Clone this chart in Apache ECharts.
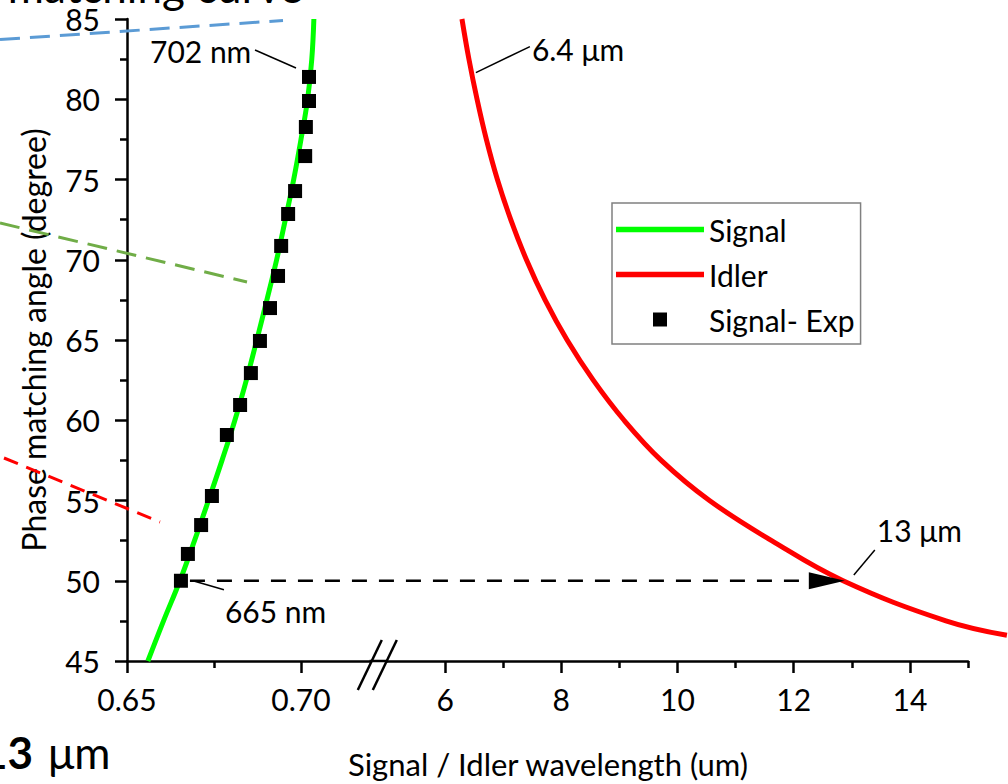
<!DOCTYPE html>
<html>
<head>
<meta charset="utf-8">
<script src="https://cdn.jsdelivr.net/npm/echarts@6/dist/echarts.min.js"></script>
<style>
html,body{margin:0;padding:0;background:#fff;}
#c{width:1008px;height:784px;}
</style>
</head>
<body>
<div id="c"></div>
<script>
// ---------------- data ----------------
const signalAngle = [45, 47.5, 50, 52.5, 55, 57.5, 60, 62.5, 65, 67.5, 70, 72.5, 75, 77.5, 80, 82.5, 85];
const signalWl    = [0.6560, 0.6605, 0.6652, 0.6694, 0.6734, 0.6773, 0.6810, 0.6843, 0.6873, 0.6902, 0.6930, 0.6955, 0.6979, 0.7000, 0.7019, 0.7031, 0.7037];

const idlerAngle = [46.6, 47.5, 50, 52.5, 55, 57.5, 60, 62.5, 65, 67.5, 70, 72.5, 75, 77.5, 80, 82.5, 85];
const idlerWl    = [15.67, 14.62, 12.85, 11.62, 10.55, 9.72, 9.08, 8.55, 8.10, 7.72, 7.40, 7.13, 6.90, 6.71, 6.55, 6.41, 6.29];

const expWl    = [0.6655, 0.6675, 0.6713, 0.6744, 0.6787, 0.6825, 0.6856, 0.6882, 0.6911, 0.6934, 0.6943, 0.6963, 0.6983, 0.7012, 0.7014, 0.7023, 0.7023];
const expAngle = [50.00, 51.67, 53.47, 55.28, 59.08, 60.95, 62.94, 64.94, 66.99, 68.99, 70.86, 72.85, 74.28, 76.46, 78.27, 79.89, 81.39];

const signalMajorTicks = [0.65, 0.70];
const signalMinorTicks = [0.675];
const idlerMajorTicks  = [6, 8, 10, 12, 14];
const idlerMinorTicks  = [7, 9, 11, 13, 15];
const signalRange = [0.65, 0.72];
const idlerRange  = [5, 15];
const angleRange  = [45, 85];

const seriesNames = ['Signal', 'Idler', 'Signal- Exp'];
const xTitle = 'Signal / Idler wavelength (um)';
const yTitle = 'Phase matching angle (degree)';

// arrow from 665 nm signal point to the idler curve
const arrowFrom = [0.6655, 50];
const arrowTo   = [12.88, 50];

// annotations anchored on data points
const annoTexts   = ['702 nm', '665 nm', '6.4 μm', '13 μm'];
const annoAnchors = [[0.7023, 81.39], [0.6655, 50], [6.53, 81.6], [12.88, 50.3]];
const annoGrid    = [0, 0, 1, 1];

// ---------------- chart ----------------
const FONT = 'Lato, "Open Sans", sans-serif';
const BLACK = '#000';
const GREEN = '#00ff00', RED = '#ff0000';
const chart = echarts.init(document.getElementById('c'), null, {renderer: 'svg'});

// idler segment geometry: the drawn axis ends at idlerRange[1]; the curve itself
// runs on an identical (hidden) scale that continues to the right page edge
const IDLER_LEFT = 387, IDLER_W = 581, PAGE_W = 1008;
const idlerExtMax = idlerRange[0] + (idlerRange[1] - idlerRange[0]) * (PAGE_W - IDLER_LEFT) / IDLER_W;

function majorAxis(grid, range, ticks, fmt) {
  return {
    type: 'value', gridIndex: grid, min: range[0], max: range[1], position: 'bottom',
    axisLine: {show: true, onZero: false, lineStyle: {color: BLACK, width: 2.5}},
    axisTick: {show: true, customValues: ticks, length: 12, inside: false, lineStyle: {color: BLACK, width: 2.5}},
    axisLabel: {show: true, customValues: ticks, formatter: fmt, fontSize: 30, color: BLACK, fontFamily: FONT, margin: 23},
    splitLine: {show: false}
  };
}
function minorAxis(grid, range, ticks) {
  return {
    type: 'value', gridIndex: grid, min: range[0], max: range[1], position: 'bottom',
    axisLine: {show: false, onZero: false},
    axisTick: {show: true, customValues: ticks, length: 7, inside: false, lineStyle: {color: BLACK, width: 2.5}},
    axisLabel: {show: false},
    splitLine: {show: false}
  };
}

const lineIcon = 'path://M0,0H88V5.5H0Z';
const squareIcon = 'path://M0,0H14V14H0Z';

const option = {
  animation: false,
  backgroundColor: '#fff',
  textStyle: {fontFamily: FONT},
  grid: [
    {left: 127, top: 19, width: 243.6, height: 642, outerBoundsMode: 'none', containLabel: false},
    {left: IDLER_LEFT, top: 19, width: IDLER_W, height: 642, outerBoundsMode: 'none', containLabel: false},
    {left: IDLER_LEFT, top: 19, width: PAGE_W - IDLER_LEFT, height: 642, outerBoundsMode: 'none', containLabel: false}
  ],
  xAxis: [
    majorAxis(0, signalRange, signalMajorTicks, v => v.toFixed(2)),
    minorAxis(0, signalRange, signalMinorTicks),
    majorAxis(1, idlerRange, idlerMajorTicks, v => String(v)),
    minorAxis(1, idlerRange, idlerMinorTicks),
    {type: 'value', gridIndex: 2, min: idlerRange[0], max: idlerExtMax, show: false, splitLine: {show: false}}
  ],
  yAxis: [
    {
      type: 'value', gridIndex: 0, min: angleRange[0], max: angleRange[1], interval: 5,
      axisLine: {show: true, onZero: false, lineStyle: {color: BLACK, width: 2.5}},
      axisTick: {show: true, length: 12, inside: false, lineStyle: {color: BLACK, width: 2.5}},
      minorTick: {show: true, splitNumber: 2, length: 7, lineStyle: {color: BLACK, width: 2.5}},
      axisLabel: {fontSize: 30, color: BLACK, fontFamily: FONT, margin: 27},
      splitLine: {show: false},
      name: yTitle, nameLocation: 'middle', nameGap: 78,
      nameTextStyle: {fontSize: 32, color: BLACK, fontFamily: FONT}
    },
    {type: 'value', gridIndex: 1, min: angleRange[0], max: angleRange[1], show: false, splitLine: {show: false}},
    {type: 'value', gridIndex: 2, min: angleRange[0], max: angleRange[1], show: false, splitLine: {show: false}}
  ],
  legend: {
    orient: 'vertical', left: 612, top: 203,
    data: [
      {name: seriesNames[0], icon: lineIcon, itemStyle: {color: GREEN}},
      {name: seriesNames[1], icon: lineIcon, itemStyle: {color: RED}},
      {name: seriesNames[2], icon: squareIcon, itemStyle: {color: BLACK}}
    ],
    symbolKeepAspect: true,
    itemWidth: 88, itemHeight: 14, itemGap: 14,
    padding: [11, 6, 9, 4],
    borderColor: '#808080', borderWidth: 1.5, borderRadius: 0,
    textStyle: {fontSize: 30, color: BLACK, fontFamily: FONT, lineHeight: 31}
  },
  series: [
    {
      name: seriesNames[0], type: 'line', xAxisIndex: 0, yAxisIndex: 0,
      data: signalWl.map((w, i) => [w, signalAngle[i]]),
      smooth: 0.4, symbol: 'none', z: 2,
      lineStyle: {color: GREEN, width: 5}, itemStyle: {color: GREEN}
    },
    {
      name: seriesNames[1], type: 'line', xAxisIndex: 4, yAxisIndex: 2,
      data: idlerWl.map((w, i) => [w, idlerAngle[i]]),
      smooth: 0.4, symbol: 'none', z: 2,
      lineStyle: {color: RED, width: 5}, itemStyle: {color: RED}
    },
    {
      name: seriesNames[2], type: 'scatter', xAxisIndex: 0, yAxisIndex: 0,
      data: expWl.map((w, i) => [w, expAngle[i]]),
      symbol: 'rect', symbolSize: 14, z: 4,
      itemStyle: {color: BLACK, opacity: 1}
    }
  ]
};
chart.setOption(option);

// ---------------- annotations ----------------
function px(grid, v) {
  return chart.convertToPixel(grid === 0 ? {xAxisIndex: 0, yAxisIndex: 0} : {xAxisIndex: 2, yAxisIndex: 1}, v);
}
// layout offsets (pixels) relative to anchors: [leaderStart, leaderEnd, textPos]
const annoLayout = [
  [[-13, -9], [-54, -27], [-159, -26]],
  [[12, 0], [43, 9], [44, 30]],
  [[0, -1], [54, -27], [56, -25]],
  [[9, -1], [30, -26], [32, -46]]
];
const g = [];
annoTexts.forEach((t, i) => {
  const p = px(annoGrid[i], annoAnchors[i]);
  const L = annoLayout[i];
  g.push({type: 'line', z: 50, shape: {x1: p[0] + L[0][0], y1: p[1] + L[0][1], x2: p[0] + L[1][0], y2: p[1] + L[1][1]},
          style: {stroke: BLACK, lineWidth: 1.5}});
  g.push({type: 'text', z: 50, x: p[0] + L[2][0], y: p[1] + L[2][1],
          style: {text: t, fill: BLACK, font: '30px ' + FONT, textAlign: 'left', textVerticalAlign: 'middle'}});
});

// dashed arrow
const a0 = px(0, arrowFrom), a1 = px(1, arrowTo);
g.push({type: 'line', z: 45, shape: {x1: a0[0] + 9, y1: a0[1], x2: a1[0] - 36, y2: a1[1]},
        style: {stroke: BLACK, lineWidth: 2.5, lineDash: [15, 12]}});
g.push({type: 'polygon', z: 45, shape: {points: [[a1[0], a1[1]], [a1[0] - 36, a1[1] - 8.5], [a1[0] - 36, a1[1] + 8.5]]},
        style: {fill: BLACK}});

// axis break: continue axis line through gap and draw "//"
const gEnd = px(0, [signalRange[1], angleRange[0]]);
const g2Start = px(1, [idlerRange[0], angleRange[0]]);
g.push({type: 'line', z: 40, shape: {x1: gEnd[0] - 1, y1: gEnd[1], x2: g2Start[0] + 1, y2: g2Start[1]},
        style: {stroke: BLACK, lineWidth: 2.5}});
const bx = (gEnd[0] + g2Start[0]) / 2, by = gEnd[1];
[0, 15].forEach(d => {
  g.push({type: 'line', z: 41, shape: {x1: bx + d - 21, y1: by + 29, x2: bx + d + 3, y2: by - 21},
          style: {stroke: BLACK, lineWidth: 2.5}});
});

// x axis title (centred under both segments)
g.push({type: 'text', z: 50, x: 548, y: 764,
        style: {text: xTitle, fill: BLACK, font: '31px ' + FONT, textAlign: 'center', textVerticalAlign: 'middle'}});

// slide fragments around the crop
g.push({type: 'text', z: 60, x: 303, y: -14,
        style: {text: 'matching curve', fill: BLACK, font: '44px ' + FONT, textAlign: 'right', textVerticalAlign: 'middle'}});
g.push({type: 'text', z: 60, x: 33, y: 752,
        style: {text: '13', fill: BLACK, font: 'bold 44px ' + FONT, textAlign: 'right', textVerticalAlign: 'middle'}});
g.push({type: 'text', z: 60, x: 48, y: 752,
        style: {text: 'μm', fill: BLACK, font: '44px ' + FONT, textAlign: 'left', textVerticalAlign: 'middle'}});
g.push({type: 'line', z: 60, shape: {x1: 0, y1: 39.5, x2: 283, y2: 20.5}, style: {stroke: '#5b9bd5', lineWidth: 3, lineDash: [20, 10]}});
g.push({type: 'line', z: 60, shape: {x1: 0, y1: 223, x2: 247, y2: 282}, style: {stroke: '#70ad47', lineWidth: 3, lineDash: [20, 10]}});
g.push({type: 'line', z: 60, shape: {x1: 4, y1: 458, x2: 160, y2: 522}, style: {stroke: '#ff0000', lineWidth: 3, lineDash: [15, 9]}});

chart.setOption({graphic: {elements: g}});
</script>
</body>
</html>
